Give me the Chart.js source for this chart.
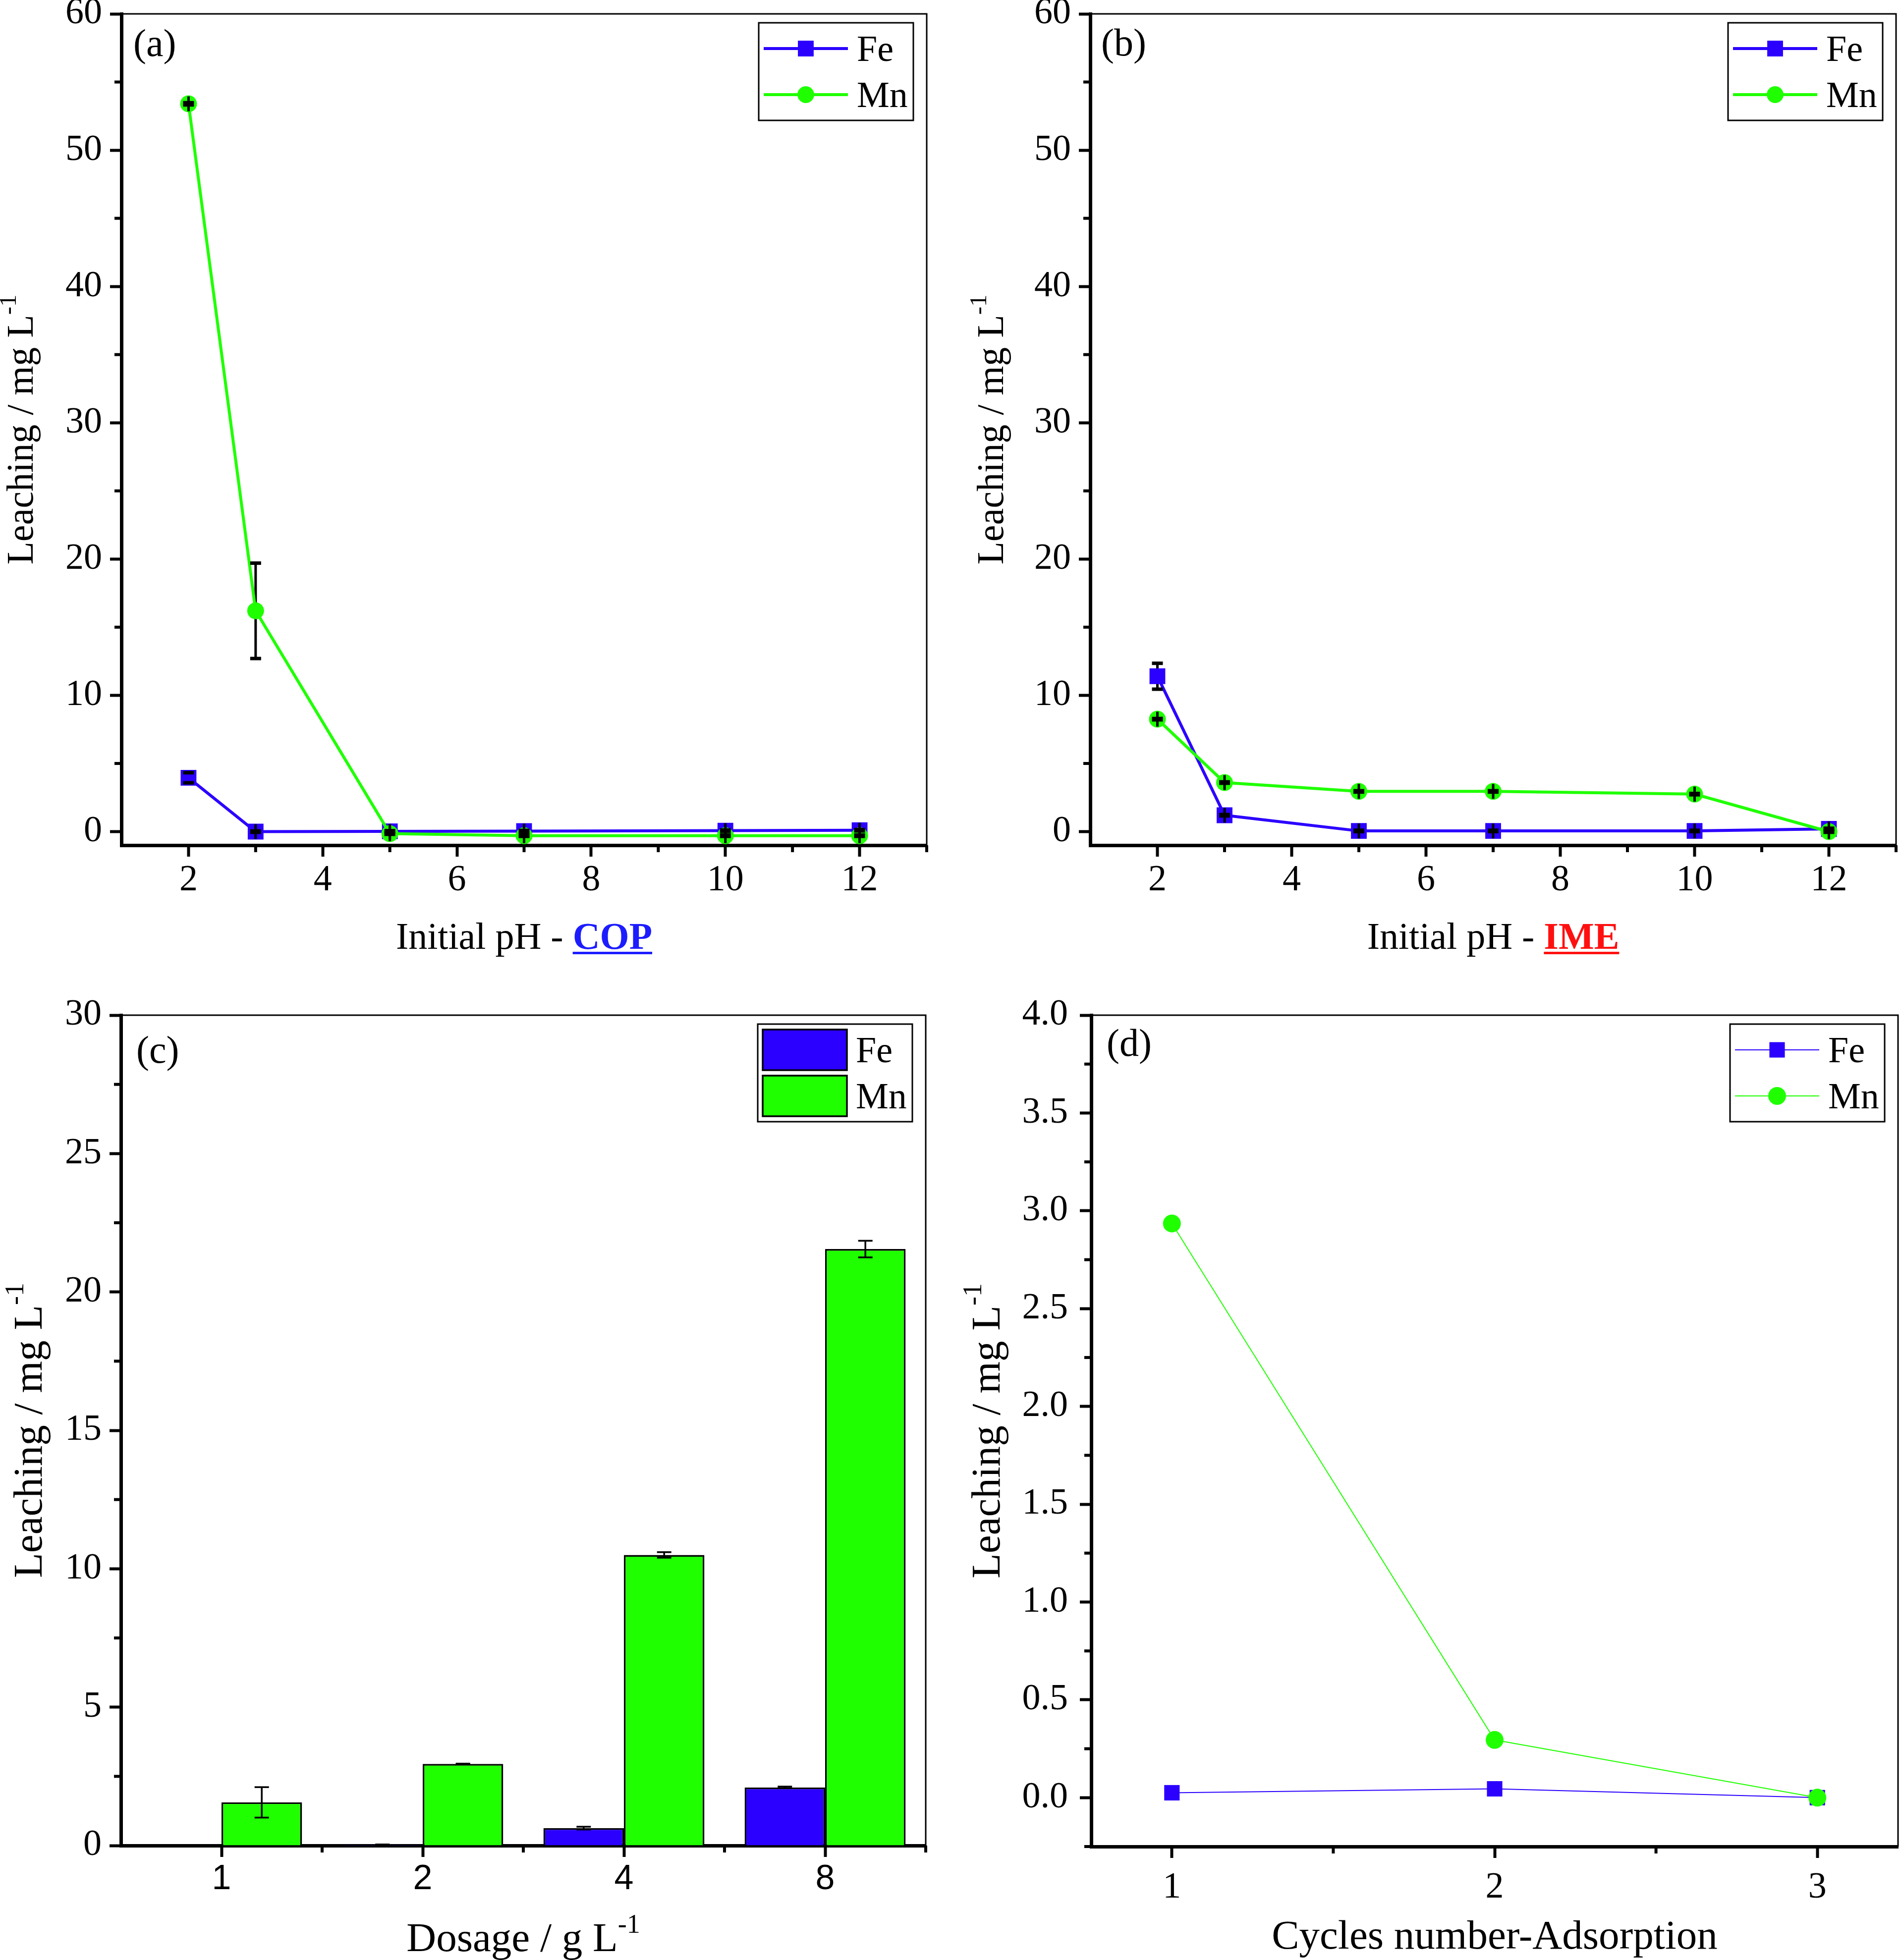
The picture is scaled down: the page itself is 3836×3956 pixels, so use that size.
<!DOCTYPE html>
<html>
<head>
<meta charset="utf-8">
<title>Fe and Mn leaching</title>
<script src="https://cdn.jsdelivr.net/npm/chart.js@4.4.1/dist/chart.umd.min.js"></script>
<style>
  html, body { margin: 0; padding: 0; background: #fff; }
  #page { position: relative; width: 3836px; height: 3956px; }
  canvas { position: absolute; }
</style>
</head>
<body>
<div id="page">
  <canvas id="chartA" width="1918" height="1978" style="left:0;top:0"></canvas>
  <canvas id="chartB" width="1918" height="1978" style="left:1918px;top:0"></canvas>
  <canvas id="chartC" width="1918" height="1978" style="left:0;top:1978px"></canvas>
  <canvas id="chartD" width="1918" height="1978" style="left:1918px;top:1978px"></canvas>
</div>
<script>
const BLUE = "#2b00ff";
const GREEN = "#1fff00";
const SERIF = "'Liberation Serif', 'Times New Roman', serif";
const SANS = "'Liberation Sans', Arial, sans-serif";

// (a) and (b): leaching against initial pH
const phValues = [2, 3, 5, 7, 10, 12];
const phTicks = [2, 4, 6, 8, 10, 12];
const phMinor = [3, 5, 7, 9, 11, 13];
const phLeachTicks = [0, 10, 20, 30, 40, 50, 60];
const phLeachMinor = [5, 15, 25, 35, 45, 55];

const feCOP = [3.95, 0.0, 0.02, 0.04, 0.07, 0.1];
const feCOPErr = [0.37, 0.05, 0.05, 0.05, 0.05, 0.05];
const mnCOP = [53.4, 16.2, -0.15, -0.3, -0.3, -0.3];
const mnCOPErr = [0.08, 3.5, 0.05, 0.05, 0.05, 0.05];

const feIME = [11.4, 1.2, 0.05, 0.05, 0.05, 0.2];
const feIMEErr = [0.95, 0.05, 0.05, 0.05, 0.05, 0.05];
const mnIME = [8.25, 3.6, 2.95, 2.95, 2.75, 0.0];
const mnIMEErr = [0.05, 0.05, 0.05, 0.05, 0.05, 0.05];

// (c): leaching against dosage (bars)
const dosageLabels = ["1", "2", "4", "8"];
const dosageYTicks = [0, 5, 10, 15, 20, 25, 30];
const dosageYMinor = [2.5, 7.5, 12.5, 17.5, 22.5, 27.5];
const dosageXMinor = [0.5, 1.5, 2.5, 3.5];
const feDosage = [0, 0.03, 0.63, 2.1];
const feDosageErr = [0, 0.01, 0.05, 0.03];
const mnDosage = [1.56, 2.95, 10.5, 21.55];
const mnDosageErr = [0.55, 0.01, 0.1, 0.3];

// (d): leaching against adsorption cycles
const cycles = [1, 2, 3];
const cycleTicks = [1, 2, 3];
const cycleMinor = [1.5, 2.5];
const cycleYTicks = [0, 0.5, 1, 1.5, 2, 2.5, 3, 3.5, 4];
const cycleYMinor = [-0.25, 0.25, 0.75, 1.25, 1.75, 2.25, 2.75, 3.25, 3.75];
const feCycle = [0.025, 0.045, 0.0];
const mnCycle = [2.935, 0.295, 0.0];

// plot area of each panel, in canvas pixels
const boxA = { w: 1918, h: 1978, left: 245, right: 1870, top: 28, bottom: 1706 };
const boxB = { w: 1918, h: 1978, left: 282, right: 1908, top: 28, bottom: 1706 };
const boxC = { w: 1918, h: 1978, left: 244, right: 1868, top: 71, bottom: 1747 };
const boxD = { w: 1918, h: 1978, left: 284, right: 1912, top: 71, bottom: 1749 };

const xy = (xs, ys) => xs.map((x, i) => ({ x, y: ys[i] }));

function axis(box, dir, o) {
  const s = {
    type: o.type || "linear",
    border: { display: true, color: "#000", width: 7 },
    grid: { display: true, drawOnChartArea: false, drawTicks: true, tickLength: 23, tickWidth: 6, tickColor: "#000", offset: false },
    ticks: {
      color: "#000",
      font: { family: o.family || SERIF, size: o.size || 74 },
      padding: o.pad !== undefined ? o.pad : (dir === "x" ? 4 : 16),
      autoSkip: false, maxRotation: 0, minRotation: 0
    }
  };
  if (o.min !== undefined) { s.min = o.min; s.max = o.max; }
  if (o.ticks) s.afterBuildTicks = sc => { sc.ticks = o.ticks.map(v => ({ value: v })); };
  if (o.format) s.ticks.callback = o.format;
  if (dir === "x") {
    s.afterFit = sc => { sc.height = box.h - box.bottom; sc.paddingLeft = 0; sc.paddingRight = 0; };
  } else {
    s.afterFit = sc => { sc.width = box.left; sc.paddingTop = 0; sc.paddingBottom = 0; };
  }
  return s;
}

function line(ctx, x1, y1, x2, y2) {
  ctx.beginPath(); ctx.moveTo(x1, y1); ctx.lineTo(x2, y2); ctx.stroke();
}

function fontOf(p) {
  return (p.bold ? "bold " : "") + p.size + "px " + SERIF;
}

// text made of several styled pieces (superscripts, bold underlined words)
function richText(ctx, parts, x, y) {
  let total = 0;
  parts.forEach(p => { ctx.font = fontOf(p); p.w = ctx.measureText(p.t).width; total += p.w; });
  let cx = x - total / 2;
  ctx.textAlign = "left";
  ctx.textBaseline = "alphabetic";
  parts.forEach(p => {
    ctx.font = fontOf(p);
    ctx.fillStyle = p.color || "#000";
    ctx.fillText(p.t, cx, y - (p.rise || 0));
    if (p.underline) ctx.fillRect(cx, y + 6, p.w, 5);
    cx += p.w;
  });
}

function drawMarker(ctx, style, r, x, y) {
  if (style === "rect") {
    const s = r * Math.SQRT2;
    ctx.fillRect(x - s / 2, y - s / 2, s, s);
  } else {
    ctx.beginPath(); ctx.arc(x, y, r, 0, Math.PI * 2); ctx.fill();
  }
}

function errorBars(chart, o, phase) {
  const { ctx } = chart;
  const ys = chart.scales.y;
  ctx.save();
  ctx.fillStyle = "#000";
  ctx.strokeStyle = "#000";
  o.errors.forEach((errs, di) => {
    const meta = chart.getDatasetMeta(di);
    const data = chart.data.datasets[di].data;
    meta.data.forEach((el, j) => {
      const e = errs[j];
      if (!e) return;
      const v = typeof data[j] === "object" ? data[j].y : data[j];
      const y = ys.getPixelForValue(v);
      const yHi = ys.getPixelForValue(v + e);
      const yLo = ys.getPixelForValue(v - e);
      const half = (yLo - yHi) / 2;
      const x = el.x;
      const crossed = o.cross && half < o.cross.limit;
      if ((phase === "stems" || phase === "all") && !crossed) {
        ctx.lineWidth = o.stemW;
        line(ctx, x, yHi, x, yLo);
      }
      if (phase === "caps" || phase === "all") {
        if (crossed) {
          ctx.fillRect(x - o.stemW / 2, y - o.cross.half, o.stemW, 2 * o.cross.half);
          ctx.fillRect(x - o.capW / 2, yHi - o.capH / 2, o.capW, yLo - yHi + o.capH);
        } else {
          ctx.fillRect(x - o.capW / 2, yHi - o.capH / 2, o.capW, o.capH);
          ctx.fillRect(x - o.capW / 2, yLo - o.capH / 2, o.capW, o.capH);
        }
      }
    });
  });
  ctx.restore();
}

function drawLegend(chart, o) {
  const { ctx, chartArea: a } = chart;
  const w = 312, h = 197;
  const x0 = a.right - 27 - w, y0 = a.top + 18;
  ctx.strokeStyle = "#000";
  ctx.lineWidth = 3;
  ctx.strokeRect(x0, y0, w, h);
  chart.data.datasets.forEach((ds, i) => {
    const cy = y0 + 52 + i * 93;
    if (o.bars) {
      ctx.fillStyle = ds.backgroundColor;
      ctx.fillRect(x0 + 10, cy - 41, 170, 82);
      ctx.lineWidth = 3.5;
      ctx.strokeStyle = "#000";
      ctx.strokeRect(x0 + 10, cy - 41, 170, 82);
    } else {
      ctx.strokeStyle = ds.borderColor;
      ctx.lineWidth = ds.borderWidth;
      line(ctx, x0 + 10, cy, x0 + 180, cy);
      ctx.fillStyle = ds.backgroundColor;
      drawMarker(ctx, ds.pointStyle, ds.pointRadius, x0 + 95, cy);
    }
    ctx.fillStyle = "#000";
    ctx.font = "74px " + SERIF;
    ctx.textAlign = "left";
    ctx.textBaseline = "alphabetic";
    ctx.fillText(ds.label, x0 + 198, cy + 25);
  });
}

function decor(o) {
  return {
    id: "decor",
    beforeDatasetsDraw(chart) {
      if (o.errors && o.stemsUnder) errorBars(chart, o, "stems");
    },
    afterDatasetsDraw(chart) {
      if (o.errors) errorBars(chart, o, o.stemsUnder ? "caps" : "all");
    },
    afterDraw(chart) {
      const { ctx, chartArea: a, scales } = chart;
      ctx.save();
      // thin top and right frame lines
      ctx.strokeStyle = "#000";
      ctx.lineWidth = 3;
      ctx.beginPath();
      ctx.moveTo(a.left, a.top);
      ctx.lineTo(a.right, a.top);
      ctx.lineTo(a.right, a.bottom);
      ctx.stroke();
      // minor ticks
      ctx.lineWidth = 6;
      o.minorX.forEach(v => {
        const px = scales.x.getPixelForValue(v);
        line(ctx, px, a.bottom, px, a.bottom + 14);
      });
      o.minorY.forEach(v => {
        const py = scales.y.getPixelForValue(v);
        line(ctx, a.left, py, a.left - 14, py);
      });
      drawLegend(chart, o);
      // panel tag
      ctx.fillStyle = "#000";
      ctx.font = "78px " + SERIF;
      ctx.textAlign = "left";
      ctx.textBaseline = "alphabetic";
      ctx.fillText(o.tag, a.left + o.tagDx, a.top + o.tagDy);
      // axis titles
      richText(ctx, o.xTitle, (a.left + a.right) / 2, o.xTitleY);
      ctx.translate(o.yTitleX, (a.top + a.bottom) / 2);
      ctx.rotate(-Math.PI / 2);
      richText(ctx, o.yTitle, 0, 0);
      ctx.restore();
    }
  };
}

const yTitle = size => [
  { t: "Leaching / mg L", size },
  { t: "-1", size: Math.round(size * 0.65), rise: Math.round(size * 0.45) }
];

function baseOptions(box, scales) {
  return {
    responsive: false,
    animation: false,
    events: [],
    layout: { autoPadding: false, padding: { top: box.top, right: box.w - box.right, bottom: 0, left: 0 } },
    plugins: { legend: { display: false }, tooltip: { enabled: false } },
    scales
  };
}

function phChart(id, box, fe, feErr, mn, mnErr, tag, word, wordColor, yTitleX, tagDx, tagDy) {
  return new Chart(document.getElementById(id), {
    type: "line",
    data: {
      datasets: [
        { label: "Fe", data: xy(phValues, fe), borderColor: BLUE, backgroundColor: BLUE, borderWidth: 6,
          pointStyle: "rect", pointRadius: 22.5, pointBorderWidth: 0, order: 1 },
        { label: "Mn", data: xy(phValues, mn), borderColor: GREEN, backgroundColor: GREEN, borderWidth: 6,
          pointStyle: "circle", pointRadius: 17, pointBorderWidth: 0, order: 0 }
      ]
    },
    options: baseOptions(box, {
      x: axis(box, "x", { min: 1, max: 13, ticks: phTicks }),
      y: axis(box, "y", { min: -1, max: 60, ticks: phLeachTicks })
    }),
    plugins: [decor({
      errors: [feErr, mnErr], stemsUnder: true, stemW: 5, capW: 22, capH: 7,
      cross: { limit: 6, half: 15 },
      minorX: phMinor, minorY: phLeachMinor,
      tag, tagDx, tagDy,
      xTitle: [{ t: "Initial pH - ", size: 76 }, { t: word, size: 76, bold: true, color: wordColor, underline: true }],
      xTitleY: 1915,
      yTitle: yTitle(76), yTitleX
    })]
  });
}

phChart("chartA", boxA, feCOP, feCOPErr, mnCOP, mnCOPErr, "(a)", "COP", "#1c1cff", 66, 24, 85);
phChart("chartB", boxB, feIME, feIMEErr, mnIME, mnIMEErr, "(b)", "IME", "#ff1010", 106, 22, 84);

new Chart(document.getElementById("chartC"), {
  type: "bar",
  data: {
    labels: dosageLabels,
    datasets: [
      { label: "Fe", data: feDosage, backgroundColor: BLUE, borderColor: "#000", borderWidth: 3.5,
        barPercentage: 1, categoryPercentage: 0.8 },
      { label: "Mn", data: mnDosage, backgroundColor: GREEN, borderColor: "#000", borderWidth: 3.5,
        barPercentage: 1, categoryPercentage: 0.8 }
    ]
  },
  options: baseOptions(boxC, {
    x: Object.assign(axis(boxC, "x", { type: "category", family: SANS, size: 70 }), { offset: true }),
    y: axis(boxC, "y", { min: 0, max: 30, ticks: dosageYTicks })
  }),
  plugins: [decor({
    errors: [feDosageErr, mnDosageErr], stemsUnder: false, stemW: 3.5, capW: 29, capH: 3.5,
    minorX: dosageXMinor, minorY: dosageYMinor, bars: true,
    tag: "(c)", tagDx: 31, tagDy: 96,
    xTitle: [{ t: "Dosage / g L", size: 83 }, { t: "-1", size: 54, rise: 37 }],
    xTitleY: 1960,
    yTitle: yTitle(83), yTitleX: 84
  })]
});

new Chart(document.getElementById("chartD"), {
  type: "line",
  data: {
    datasets: [
      { label: "Fe", data: xy(cycles, feCycle), borderColor: BLUE, backgroundColor: BLUE, borderWidth: 2,
        pointStyle: "rect", pointRadius: 22, pointBorderWidth: 0, order: 1 },
      { label: "Mn", data: xy(cycles, mnCycle), borderColor: GREEN, backgroundColor: GREEN, borderWidth: 2,
        pointStyle: "circle", pointRadius: 18, pointBorderWidth: 0, order: 0 }
    ]
  },
  options: baseOptions(boxD, {
    x: axis(boxD, "x", { min: 0.75, max: 3.25, ticks: cycleTicks, pad: 16 }),
    y: axis(boxD, "y", { min: -0.25, max: 4, ticks: cycleYTicks, pad: 24, format: v => Number(v).toFixed(1) })
  }),
  plugins: [decor({
    minorX: cycleMinor, minorY: cycleYMinor,
    tag: "(d)", tagDx: 31, tagDy: 82,
    xTitle: [{ t: "Cycles number-Adsorption", size: 83 }],
    xTitleY: 1955,
    yTitle: yTitle(83), yTitleX: 99
  })]
});
</script>
</body>
</html>
